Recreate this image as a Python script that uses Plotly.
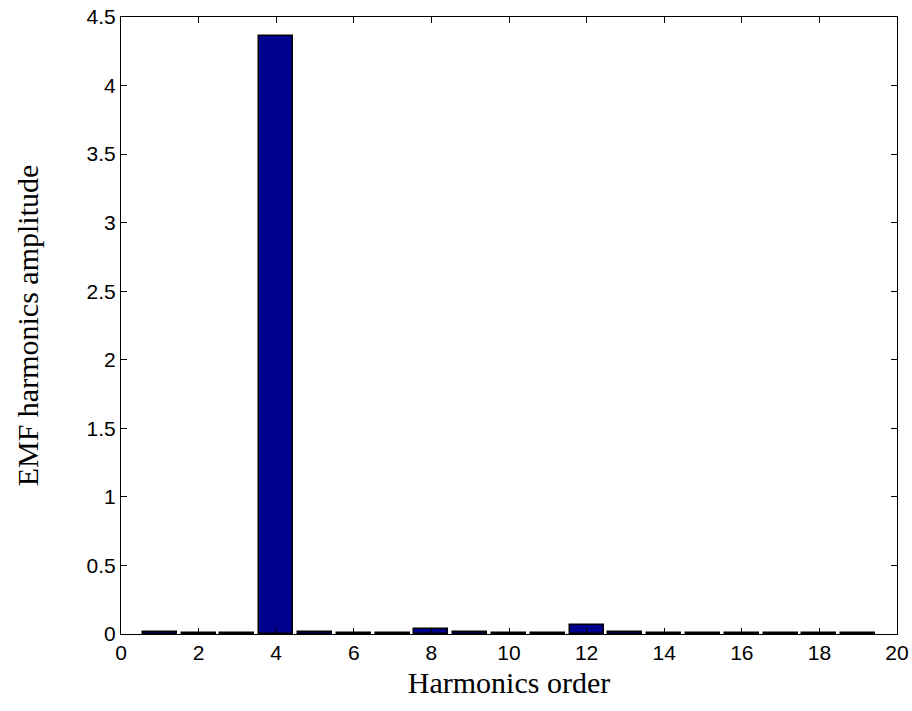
import plotly.graph_objects as go

harmonic_order = list(range(1, 20))
amplitude = [0.012, 0.005, 0.005, 4.36, 0.012, 0.004, 0.005, 0.035, 0.012, 0.004,
             0.005, 0.065, 0.012, 0.004, 0.005, 0.004, 0.005, 0.004, 0.006]
x_ticks = list(range(0, 21, 2))
y_ticks = [0, 0.5, 1, 1.5, 2, 2.5, 3, 3.5, 4, 4.5]
y_tick_labels = ["0", "0.5", "1", "1.5", "2", "2.5", "3", "3.5", "4", "4.5"]

fig = go.Figure(go.Bar(
    x=harmonic_order, y=amplitude, width=0.88,
    marker=dict(color="#00008F", line=dict(color="black", width=1.5)),
))

axis_common = dict(
    showgrid=False, zeroline=False, showline=True, linecolor="black", linewidth=1.2,
    mirror="ticks", ticks="inside", ticklen=6, tickcolor="black", automargin=False,
    ticklabeloverflow="allow",
    tickfont=dict(family="Liberation Sans, Arial", size=21, color="black"),
)
fig.update_xaxes(range=[0, 20], tickvals=x_ticks, **axis_common,
                 title=dict(text="Harmonics order", standoff=8,
                            font=dict(family="Liberation Serif, Times New Roman", size=30, color="black")))
fig.update_yaxes(range=[0, 4.5], tickvals=y_ticks, ticktext=y_tick_labels, **axis_common,
                 title=dict(text="EMF harmonics amplitude", standoff=38,
                            font=dict(family="Liberation Serif, Times New Roman", size=30, color="black")))

fig.update_layout(
    width=912, height=711, plot_bgcolor="white", paper_bgcolor="white",
    margin=dict(l=121, r=15, t=17, b=77), showlegend=False, bargap=0,
)
fig.write_html("out.html", config={"displayModeBar": False},
               post_script="document.body.style.margin='0';document.body.style.overflow='hidden';")
